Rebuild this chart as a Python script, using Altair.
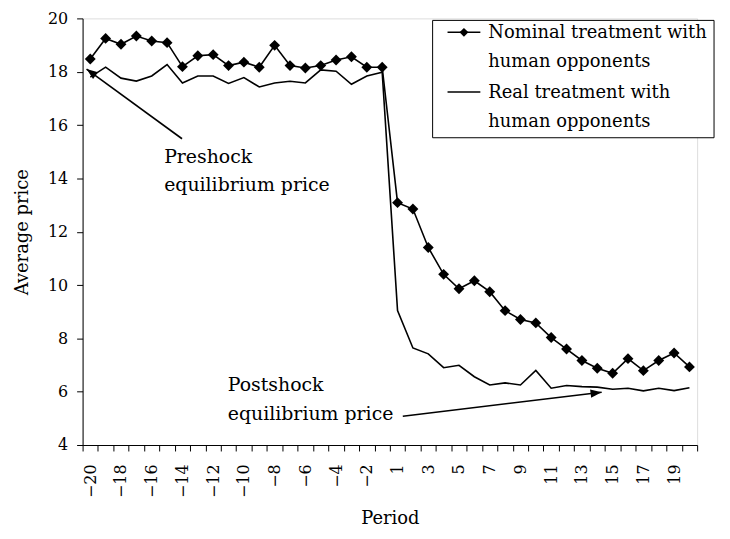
import math
import altair as alt
import pandas as pd

# ---- data ----
periods = list(range(-20, 0)) + list(range(1, 21))
nominal = [18.48, 19.25, 19.03, 19.34, 19.15, 19.09, 18.19, 18.60, 18.64, 18.23,
           18.36, 18.17, 18.99, 18.23, 18.14, 18.23, 18.44, 18.56, 18.17, 18.17,
           13.09, 12.85, 11.41, 10.40, 9.86, 10.16, 9.75, 9.04, 8.71, 8.58,
           8.03, 7.60, 7.17, 6.88, 6.69, 7.24, 6.79, 7.17, 7.45, 6.93]
real = [17.80, 18.17, 17.76, 17.65, 17.84, 18.27, 17.58, 17.84, 17.84, 17.56,
        17.78, 17.43, 17.58, 17.64, 17.58, 18.07, 18.02, 17.53, 17.84, 17.98,
        9.04, 7.64, 7.42, 6.90, 6.99, 6.56, 6.25, 6.33, 6.25, 6.80,
        6.13, 6.23, 6.19, 6.17, 6.09, 6.13, 6.03, 6.13, 6.04, 6.15]
y_ticks = [4, 6, 8, 10, 12, 14, 16, 18, 20]
legend_labels = [["Nominal treatment with", "human opponents"],
                 ["Real treatment with", "human opponents"]]
pre_note = ["Preshock", "equilibrium price"]
post_note = ["Postshock", "equilibrium price"]

FONT = "DejaVu Serif"
W, H = 618, 429
DY = -5  # shift of overlay positions relative to the plot origin

df_nom = pd.DataFrame({"Period": periods, "Price": nominal})
df_real = pd.DataFrame({"Period": periods, "Price": real})

label_expr = ("(toNumber(datum.value) < 0 ? (toNumber(datum.value) % 2 == 0) : "
              "(toNumber(datum.value) % 2 == 1)) ? replace(datum.label, '-', '\u2212') : ''")

x_enc = alt.X(
    "Period:O",
    sort=periods,
    bandPosition=0.5,
    scale=alt.Scale(type="band", paddingInner=0, paddingOuter=0),
    axis=alt.Axis(
        title="Period", tickBand="extent", labelAngle=270, labelExpr=label_expr,
        labelOverlap=False, labelPadding=13, tickSize=6, titlePadding=12,
        labelFontSize=16, titleFontSize=18, labelFont=FONT, titleFont=FONT,
        titleFontWeight="normal", domainColor="black", tickColor="black",
        labelColor="black", titleColor="black",
    ),
)
y_enc = alt.Y(
    "Price:Q",
    scale=alt.Scale(domain=[4, 20], nice=False, zero=False),
    axis=alt.Axis(
        title="Average price", values=y_ticks, grid=False, tickSize=6,
        labelPadding=9, titlePadding=16, labelFontSize=16, titleFontSize=18,
        labelFont=FONT, titleFont=FONT, titleFontWeight="normal",
        domainColor="black", tickColor="black", labelColor="black", titleColor="black",
    ),
)

real_line = alt.Chart(df_real).mark_line(color="black", strokeWidth=1.6).encode(x=x_enc, y=y_enc)
nom_line = alt.Chart(df_nom).mark_line(
    color="black", strokeWidth=1.6,
    point=alt.OverlayMarkDef(shape="diamond", filled=True, size=120, color="black", opacity=1),
).encode(x=x_enc, y=y_enc)

one = alt.Data(values=[{"a": 1}])
ARROW = "M0,0L-1,-0.38L-1,0.38Z"


def arrow(x1, y1, x2, y2):
    ang = math.degrees(math.atan2(y2 - y1, x2 - x1)) % 360
    line = alt.Chart(one).mark_rule(color="black", strokeWidth=1.6).encode(
        x=alt.value(x1), y=alt.value(y1), x2=alt.value(x2), y2=alt.value(y2))
    head = alt.Chart(one).mark_point(
        shape=ARROW, filled=True, color="black", opacity=1, size=500, angle=ang,
        strokeWidth=0).encode(x=alt.value(x2), y=alt.value(y2))
    return line + head


def text(lines, x, y, size=18):
    return alt.Chart(one).mark_text(
        text=lines, align="left", baseline="alphabetic", font=FONT, fontSize=size,
        lineHeight=29, color="black").encode(x=alt.value(x), y=alt.value(y))


pre_arrow = arrow(100, 126 + DY, 4, 51)
post_arrow = arrow(322, 405 + DY, 522, 381 + DY)
pre_text = text(pre_note, 82, 150 + DY, 19)
post_text = text(post_note, 146, 380 + DY, 19)

legend_box = alt.Chart(one).mark_rect(fill="white", stroke="black", strokeWidth=1).encode(
    x=alt.value(352), x2=alt.value(635), y=alt.value(2), y2=alt.value(125 + DY))
leg_l1 = alt.Chart(one).mark_rule(color="black", strokeWidth=1.6).encode(
    x=alt.value(367), x2=alt.value(400), y=alt.value(19 + DY))
leg_p1 = alt.Chart(one).mark_point(shape="diamond", filled=True, size=80, color="black", opacity=1).encode(
    x=alt.value(383.5), y=alt.value(19 + DY))
leg_l2 = alt.Chart(one).mark_rule(color="black", strokeWidth=1.6).encode(
    x=alt.value(367), x2=alt.value(400), y=alt.value(79 + DY))
leg_t1 = text(legend_labels[0], 408, 25 + DY)
leg_t2 = text(legend_labels[1], 408, 85 + DY)

chart = alt.layer(
    real_line, nom_line, pre_arrow, post_arrow, pre_text, post_text,
    legend_box, leg_l1, leg_p1, leg_l2, leg_t1, leg_t2,
).properties(
    width=W, height=H,
    autosize=alt.AutoSizeParams(type="none"),
    padding={"left": 75, "top": 9, "right": 25, "bottom": 85},
).configure_view(stroke=None).configure(background="white")

chart.save("out.html", embed_options={"renderer": "svg", "actions": False})
